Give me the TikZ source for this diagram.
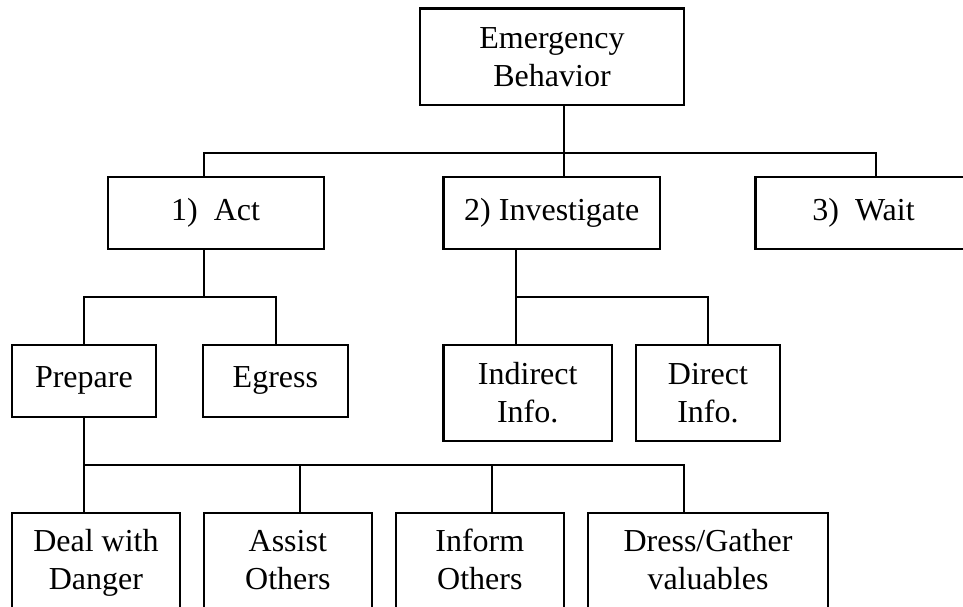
\documentclass[tikz,border=0pt]{standalone}
\usepackage{fontspec}
\setmainfont{Liberation Serif}
\begin{document}
\begin{tikzpicture}[x=1pt,y=-1pt,
  box/.style={draw,line width=2.2pt,inner sep=0pt,align=center,
    font=\fontsize{32}{38}\selectfont},
  lowbox/.style={box,minimum height=100pt,text depth=7pt},
  conn/.style={line width=2pt}]
\useasboundingbox (0,0) rectangle (963,607);
\clip (0,0) rectangle (963,607);
% nodes
\node[box,minimum width=264pt,minimum height=96.5pt] (eb) at (552,56.75) {Emergency\\Behavior};
\node[box,minimum width=216pt,minimum height=72pt] (act) at (215.6,213) {1)\ \ Act};
\node[box,minimum width=216.5pt,minimum height=72pt] (inv) at (551.75,213) {2) Investigate};
\node[box,minimum width=216pt,minimum height=72pt] (wait) at (863.5,213) {3)\ \ Wait};
\node[box,minimum width=144.3pt,minimum height=72.4pt] (prep) at (83.9,380.8) {Prepare};
\node[box,minimum width=144.7pt,minimum height=72.4pt] (egr) at (275.4,380.8) {Egress};
\node[box,minimum width=168.3pt,minimum height=96.4pt] (ind) at (527.7,392.8) {Indirect\\Info.};
\node[box,minimum width=144.3pt,minimum height=96.4pt] (dir) at (707.9,392.8) {Direct\\Info.};
\node[lowbox,minimum width=168.3pt] (deal) at (95.9,563) {Deal with\\Danger};
\node[lowbox,minimum width=167.6pt] (ass) at (287.8,563) {Assist\\Others};
\node[lowbox,minimum width=168.3pt] (inf) at (479.8,563) {Inform\\Others};
\node[lowbox,minimum width=240.2pt] (dre) at (708,563) {Dress/Gather\\valuables};
% junction coordinates
\coordinate (ka) at (204,153);
\coordinate (ki) at (564,153);
\coordinate (kw) at (876,153);
\coordinate (la) at (204,297);
\coordinate (lp) at (83.5,297);
\coordinate (le) at (276,297);
\coordinate (mi) at (516,297);
\coordinate (md) at (707.6,297);
\coordinate (n1) at (83.5,464.6);
\coordinate (n2) at (300,464.6);
\coordinate (n3) at (492,464.6);
\coordinate (n4) at (683.6,464.6);
% connectors
\draw[conn] (act.north -| ka) |- (kw) -- (wait.north -| kw);
\draw[conn] (eb.south -| ki) -- (inv.north -| ki);
\draw[conn] (act.south -| la) -- (la);
\draw[conn] (prep.north -| lp) |- (le) -- (egr.north -| le);
\draw[conn] (inv.south -| mi) -- (ind.north -| mi);
\draw[conn] (mi) -- (md) -- (dir.north -| md);
\draw[conn] (prep.south -| n1) -- (deal.north -| n1);
\draw[conn] (n1) -- (n4) -- (dre.north -| n4);
\draw[conn] (ass.north -| n2) -- (n2);
\draw[conn] (inf.north -| n3) -- (n3);
\end{tikzpicture}
\end{document}
